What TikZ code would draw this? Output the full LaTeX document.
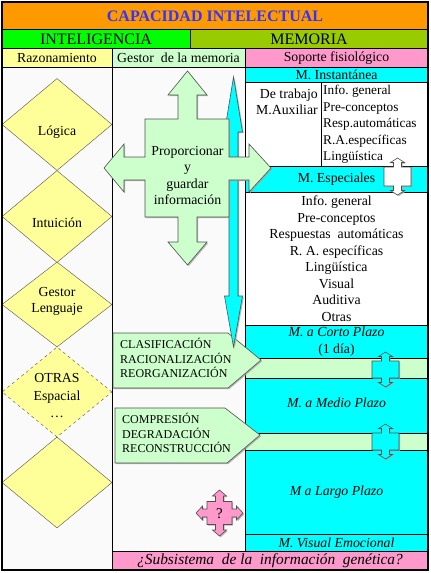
\documentclass[tikz,border=0pt]{standalone}
\usepackage{fontspec}
\setmainfont{Liberation Serif}
\usetikzlibrary{shapes.geometric,shadows}

\definecolor{naranja}{HTML}{FF9900}
\definecolor{verde}{HTML}{00FF00}
\definecolor{oliva}{HTML}{99CC00}
\definecolor{amarillo}{HTML}{FFFF99}
\definecolor{verdeclaro}{HTML}{CCFFCC}
\definecolor{rosa}{HTML}{FF99CC}
\definecolor{cian}{HTML}{00FFFF}
\definecolor{fondo}{HTML}{FAFAFA}
\definecolor{azul}{HTML}{3333FF}
\definecolor{borde}{HTML}{505050}

\tikzset{
  celda/.style={draw=black,line width=0.8pt},
  rombo/.style={diamond,draw=borde,fill=amarillo,minimum width=110pt,minimum height=92pt,inner sep=0pt},
  flechita/.style={draw=borde,line width=0.6pt,line join=miter,
    drop shadow={shadow xshift=1.2pt,shadow yshift=-1.2pt,fill=gray!70,opacity=0.8}},
  texto/.style={inner sep=1pt,font=\fontsize{13.8}{16.5}\selectfont},
  mayus/.style={inner sep=1pt,align=left,font=\fontsize{12}{14.5}\selectfont}
}

% flecha vertical doble: x centro, y arriba, y abajo, semiancho, relleno
\newcommand{\flechavert}[5]{%
  \draw[flechita,fill=#5] (#1,#2-9) -- (#1+7,#2-4.5) -- (#1+4,#2-4.5) -- (#1+4,#2)
    -- (#1+#4,#2) -- (#1+#4,#3) -- (#1+4,#3) -- (#1+4,#3+4.5) -- (#1+7,#3+4.5)
    -- (#1,#3+9) -- (#1-7,#3+4.5) -- (#1-4,#3+4.5) -- (#1-4,#3) -- (#1-#4,#3)
    -- (#1-#4,#2) -- (#1-4,#2) -- (#1-4,#2-4.5) -- (#1-7,#2-4.5) -- cycle;}

\begin{document}
\begin{tikzpicture}[x=1pt,y=-1pt,>=stealth]
\useasboundingbox (0,0) rectangle (431,573);
\fill[white] (0,0) rectangle (431,573);
\fill[fondo] (2,2) rectangle (428,570);

% cabeceras
\draw[celda,fill=naranja] (2,2) rectangle (428,29);
\node[font=\fontsize{16}{18}\selectfont\bfseries,text=azul] (titulo) at (215,16) {CAPACIDAD INTELECTUAL};
\draw[celda,fill=verde] (2,29) rectangle (190,48);
\draw[celda,fill=oliva] (190,29) rectangle (428,48);
\node[font=\fontsize{16}{18}\selectfont] (intel) at (96,39) {INTELIGENCIA};
\node[font=\fontsize{16}{18}\selectfont] (memo) at (309,39) {MEMORIA};
\draw[celda,fill=amarillo] (2,48) rectangle (112,67);
\draw[celda,fill=verdeclaro] (112,48) rectangle (245,67);
\draw[celda,fill=rosa] (245,48) rectangle (428,67);
\node[texto] (razon) at (57,58) {Razonamiento};
\node[texto] (gestor) at (178.5,58) {Gestor\ \ de la memoria};
\node[texto] (soporte) at (336.5,58) {Soporte fisiológico};

% columna izquierda
\draw[celda] (2,67) rectangle (112,570);
\node[rombo] (logica) at (57,124.5) {};
\node[texto] (tlogica) at (57,132) {Lógica};
\node[rombo] (intuicion) at (57,216.5) {};
\node[texto] (tintuicion) at (57,223) {Intuición};
\node[rombo,minimum height=85pt] (lenguaje) at (57,304.5) {};
\node[texto,align=center,font=\fontsize{13.8}{16}\selectfont] (tlenguaje) at (57,301) {Gestor\\Lenguaje};
\node[rombo,dashed,minimum height=90pt] (otras) at (57,392) {};
\node[texto,align=center,font=\fontsize{13.8}{17.5}\selectfont] (totras) at (57,396) {OTRAS\\Espacial\\\dots};
\node[rombo,minimum height=91pt] (vacio) at (57,482.5) {};

% columna derecha
\draw[celda,fill=cian] (245,67) rectangle (428,82);
\node[texto] (instant) at (336.5,74.5) {M. Instantánea};
\draw[celda,fill=white] (245,82) rectangle (428,166);
\draw[celda] (321,82) -- (321,166);
\node[texto,align=right,anchor=east] (auxiliar) at (319,102) {De trabajo\\M.Auxiliar};
\node[texto,align=left,anchor=west,font=\fontsize{13.3}{16.5}\selectfont] (instlista) at (322,124.5)
  {Info.\ general\\Pre-conceptos\\Resp.automáticas\\R.A.específicas\\Lingüística};
\draw[celda,fill=cian] (245,166) rectangle (428,192);
\node[texto] (especiales) at (336.5,179) {M. Especiales};
\draw[celda,fill=white] (245,192) rectangle (428,325);
\node[texto,align=center] (esplista) at (336.5,258.5)
  {Info.\ general\\Pre-conceptos\\Respuestas\ \ automáticas\\R. A. específicas\\Lingüística\\Visual\\Auditiva\\Otras};
\draw[celda,fill=cian] (245,325) rectangle (428,358);
\node[texto,align=center] (corto) at (336.5,341.5) {\itshape M. a Corto Plazo\\(1 día)};
\draw[celda,fill=verdeclaro] (245,358) rectangle (428,378);
\draw[celda,fill=cian] (245,378) rectangle (428,433);
\node[texto] (medio) at (336.5,403) {\itshape M. a Medio Plazo};
\draw[celda,fill=verdeclaro] (245,433) rectangle (428,450);
\draw[celda,fill=cian] (245,450) rectangle (428,534);
\node[texto] (largo) at (336.5,492) {\itshape M a Largo Plazo};
\draw[celda,fill=cian] (245,534) rectangle (428,551);
\node[texto] (visual) at (336.5,542.5) {\itshape M. Visual Emocional};
\draw[celda,fill=rosa] (112,551) rectangle (428,570);
\node[texto,font=\fontsize{15.4}{17}\selectfont\itshape] (genetica) at (270,561)
  {¿Subsistema\ \ de la\ \ información\ \ genética?};

% flechas de enlace
\flechavert{397.5}{167}{186}{13.5}{white}
\flechavert{385.5}{361}{378}{13.5}{cian}
\flechavert{385.5}{433}{450}{13.5}{cian}

% procesos
\draw[flechita,fill=verdeclaro] (113,333) -- (228,333) -- (261,360) -- (228,388) -- (113,388) -- cycle;
\node[mayus,anchor=west] (clasif) at (119,358)
  {CLASIFICACIÓN\\RACIONALIZACIÓN\\REORGANIZACIÓN};
\draw[flechita,fill=verdeclaro] (115,408) -- (225,408) -- (260,435) -- (227,463) -- (115,463) -- cycle;
\node[mayus,anchor=west] (compres) at (121,433)
  {COMPRESIÓN\\DEGRADACIÓN\\RECONSTRUCCIÓN};

% flujo vertical
\draw[flechita,fill=cian] (233.5,77) -- (242.5,132) -- (238,132) -- (238,296) -- (242.5,296)
  -- (233.5,347) -- (224.5,296) -- (229,296) -- (229,132) -- (224.5,132) -- cycle;

% cruz central
\draw[flechita,fill=verdeclaro] (187.5,71) -- (207,95) -- (197,95) -- (197,119) -- (229,119)
  -- (229,157) -- (249,157) -- (249,144) -- (271,168) -- (249,192) -- (249,180) -- (229,180)
  -- (229,217) -- (197,217) -- (197,242) -- (207,242) -- (187.5,265) -- (168,242) -- (178,242)
  -- (178,217) -- (145,217) -- (145,180) -- (124,180) -- (124,192) -- (104,168) -- (124,144)
  -- (124,157) -- (145,157) -- (145,119) -- (178,119) -- (178,95) -- (168,95) -- cycle;
\node[texto,align=center] (proporcionar) at (187.5,175.5) {Proporcionar\\y\\guardar\\información};

% incognita
\begin{scope}[shift={(219.5,513)}]
  \draw[flechita,fill=rosa] (0,-23) -- (7,-17) -- (4,-17) -- (4,-11.5) -- (12.5,-11.5) -- (12.5,-4)
    -- (17,-4) -- (17,-7) -- (23.5,0) -- (17,7) -- (17,4) -- (12.5,4) -- (12.5,11.5) -- (4,11.5)
    -- (4,17) -- (7,17) -- (0,23) -- (-7,17) -- (-4,17) -- (-4,11.5) -- (-12.5,11.5) -- (-12.5,4)
    -- (-17,4) -- (-17,7) -- (-23.5,0) -- (-17,-7) -- (-17,-4) -- (-12.5,-4) -- (-12.5,-11.5)
    -- (-4,-11.5) -- (-4,-17) -- (-7,-17) -- cycle;
\end{scope}
\node[texto,font=\fontsize{15}{17}\selectfont] (pregunta) at (219.5,514) {?};

% borde exterior
\draw[line width=1.6pt] (2,2) rectangle (428,570);
\end{tikzpicture}
\end{document}
